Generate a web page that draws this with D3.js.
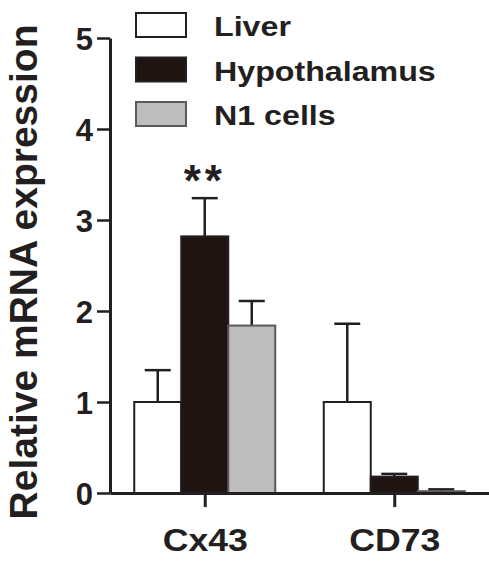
<!DOCTYPE html>
<html>
<head>
<meta charset="utf-8">
<script src="https://cdn.jsdelivr.net/npm/d3@7"></script>
<style>
  body { margin: 0; background: #fff; }
  text { font-family: "Liberation Sans", Arial, sans-serif; font-weight: bold; fill: #231f20; }
</style>
</head>
<body>
<div id="chart"></div>
<script>
// data
var genes = ["Cx43", "CD73"];
var tissues = ["Liver", "Hypothalamus", "N1 cells"];
var means = [[1.0, 2.82, 1.84], [1.0, 0.18, 0.02]];
var errs  = [[0.35, 0.42, 0.27], [0.86, 0.03, 0.02]];
var yTicks = [0, 1, 2, 3, 4, 5];
var colors = ["#ffffff", "#1e1513", "#bdbdbd"];
var strokes = ["#231f20", "#231f20", "#5a5a5a"];

var width = 489, height = 573;

var svg = d3.select("#chart")
  .append("svg")
    .attr("width", width)
    .attr("height", height);

var y = d3.scaleLinear()
  .domain([0, 5])
  .range([493, 38]);

var x0 = d3.scalePoint()
  .domain(genes)
  .range([110, 489])
  .padding(0.5);

var x1 = d3.scaleBand()
  .domain(tissues)
  .range([-70.5, 70.5]);

// bars
genes.forEach(function(g, gi) {
  var grp = svg.append("g").attr("transform", "translate(" + x0(g) + ",0)");
  tissues.forEach(function(t, ti) {
    var v = means[gi][ti], e = errs[gi][ti];
    var cx = x1(t) + x1.bandwidth() / 2;
    // error bar (upper only)
    grp.append("line")
      .attr("x1", cx).attr("x2", cx)
      .attr("y1", y(v)).attr("y2", y(v + e))
      .attr("stroke", "#231f20").attr("stroke-width", 2.5);
    grp.append("line")
      .attr("x1", cx - 13).attr("x2", cx + 13)
      .attr("y1", y(v + e)).attr("y2", y(v + e))
      .attr("stroke", "#231f20").attr("stroke-width", 2.5);
    grp.append("rect")
      .attr("x", x1(t))
      .attr("y", y(v))
      .attr("width", x1.bandwidth())
      .attr("height", y(0) - y(v))
      .attr("fill", colors[ti])
      .attr("stroke", strokes[ti])
      .attr("stroke-width", 2);
  });
});

// significance stars
svg.append("text")
  .attr("x", x0("Cx43"))
  .attr("y", 196)
  .attr("text-anchor", "middle")
  .style("font-size", "44px")
  .style("letter-spacing", "4px")
  .text("**");

// Y axis
var yAxis = svg.append("g")
  .attr("transform", "translate(110,0)")
  .call(d3.axisLeft(y).tickValues(yTicks).tickFormat(d3.format("d"))
    .tickSize(13).tickSizeOuter(0).tickPadding(4));
yAxis.select(".domain").attr("stroke", "#231f20").attr("stroke-width", 3);
yAxis.selectAll(".tick line").attr("stroke", "#231f20").attr("stroke-width", 2.5);
yAxis.selectAll(".tick text")
  .style("font-size", "31px")
  .attr("fill", "#231f20")
  .attr("dy", "0.36em");

// X axis
var xAxis = svg.append("g")
  .attr("transform", "translate(0,493)")
  .call(d3.axisBottom(x0).tickSize(14).tickSizeOuter(0).tickPadding(22));
xAxis.select(".domain").attr("stroke", "#231f20").attr("stroke-width", 3);
xAxis.selectAll(".tick line").attr("stroke", "#231f20").attr("stroke-width", 3);
xAxis.selectAll(".tick text")
  .style("font-size", "31px")
  .attr("fill", "#231f20")
  .attr("transform", "scale(1.15,1)");

// Y label
svg.append("text")
  .attr("transform", "translate(37,272) rotate(-90)")
  .attr("text-anchor", "middle")
  .style("font-size", "39px")
  .text("Relative mRNA expression");

// legend
var legend = svg.append("g");
tissues.forEach(function(t, i) {
  var ly = 13 + i * 44.5;
  legend.append("rect")
    .attr("x", 136).attr("y", ly)
    .attr("width", 50).attr("height", 24)
    .attr("fill", colors[i])
    .attr("stroke", strokes[i])
    .attr("stroke-width", 2);
  legend.append("text")
    .attr("transform", "translate(214," + (ly + 23) + ") scale(1.15,1)")
    .style("font-size", "28px")
    .text(t);
});
</script>
</body>
</html>
